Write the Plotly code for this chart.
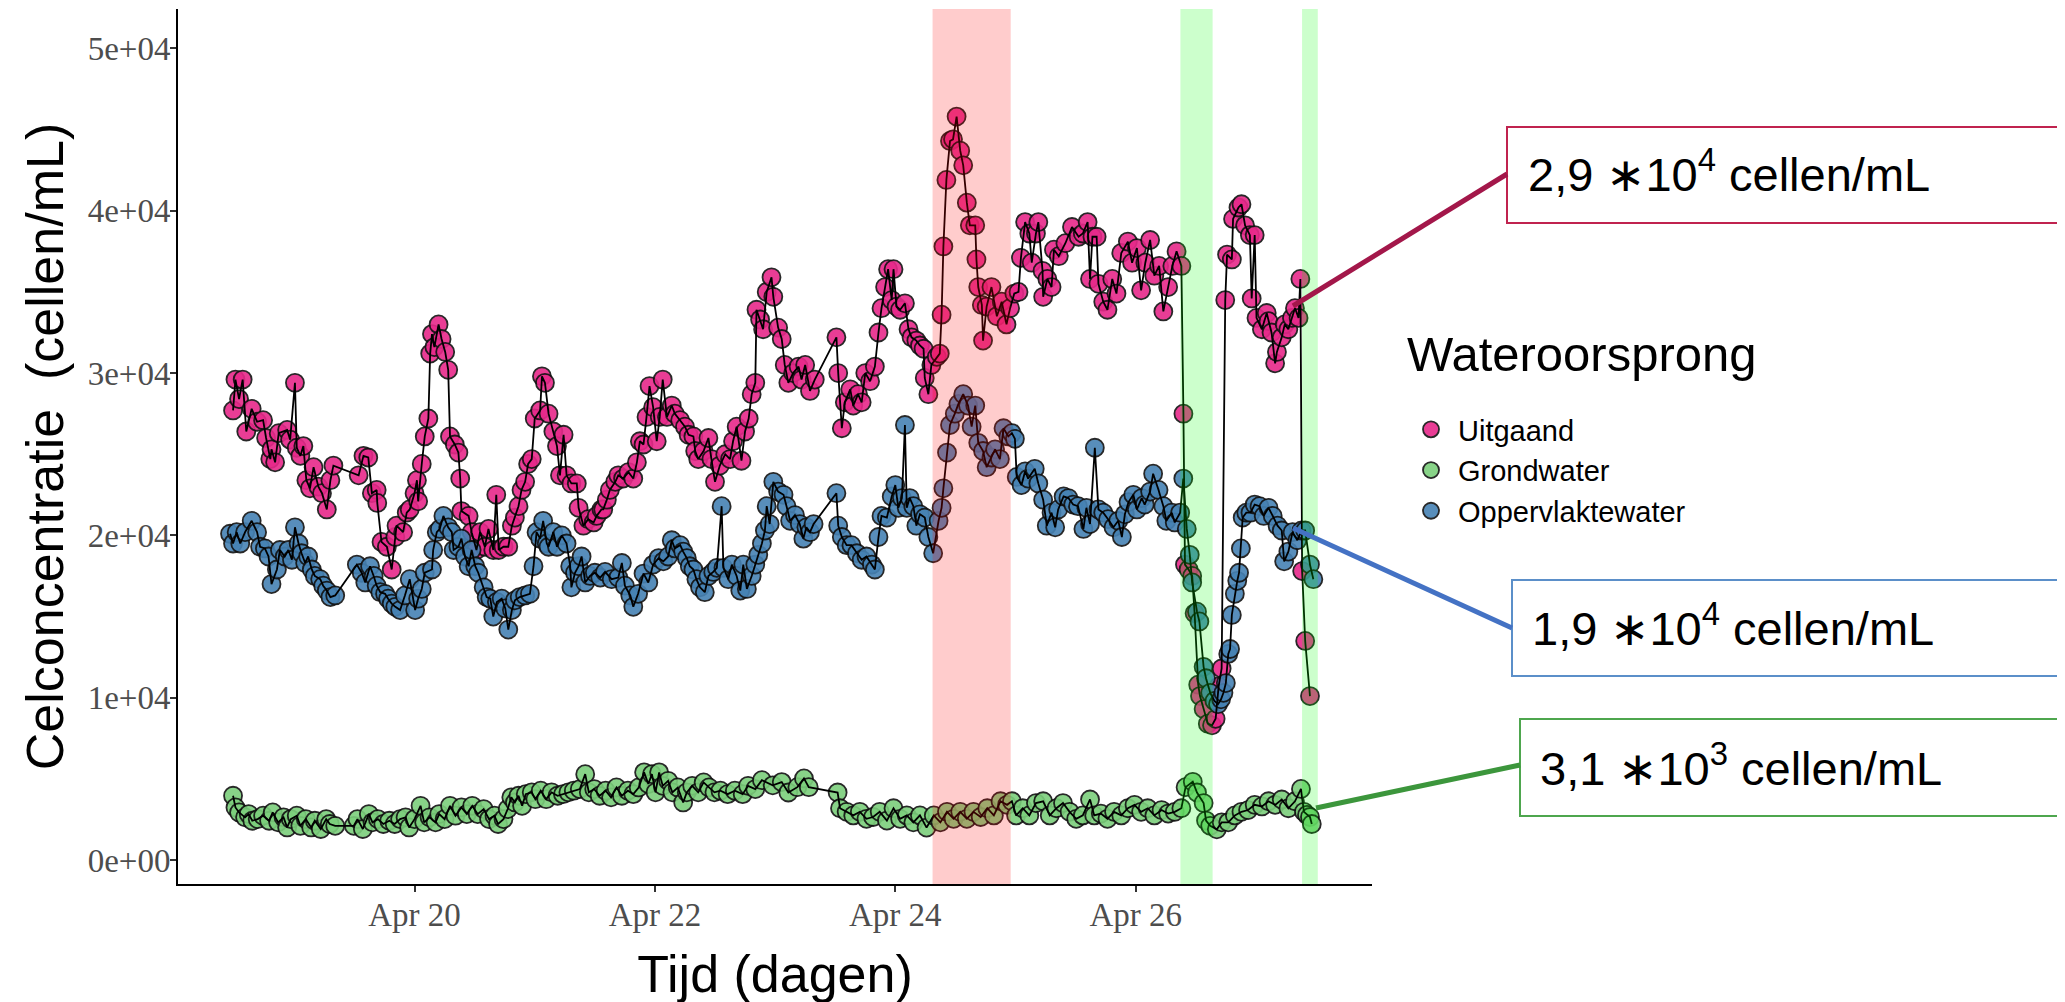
import plotly.graph_objects as go
from datetime import datetime, timedelta

# ---------------- data (day of April, fractional) ----------------
t_uitgaand = [
    18.49, 18.51, 18.54, 18.57, 18.60, 18.645, 18.69, 18.74, 18.765, 18.80, 18.81, 18.84, 18.87, 18.94, 18.965,
    19.005, 19.02, 19.05, 19.075, 19.10, 19.13, 19.16, 19.20, 19.23, 19.27, 19.30, 19.325,
    19.535, 19.575, 19.615, 19.645, 19.685, 19.69, 19.725, 19.77, 19.81, 19.84, 19.85, 19.905, 19.935, 19.96,
    20.00, 20.02, 20.03, 20.06, 20.085, 20.115, 20.13, 20.145, 20.165, 20.20, 20.225, 20.255, 20.28, 20.295,
    20.335, 20.365, 20.38, 20.39, 20.45, 20.475, 20.515, 20.545, 20.585, 20.615, 20.655, 20.68, 20.70, 20.74,
    20.78, 20.81, 20.835, 20.865, 20.89, 20.92, 20.945, 20.975, 21.00, 21.045, 21.06, 21.085, 21.115, 21.155,
    21.185, 21.21, 21.24, 21.265, 21.305, 21.35, 21.365, 21.405, 21.445, 21.49, 21.515, 21.555, 21.57, 21.60,
    21.625, 21.67, 21.695, 21.735, 21.78, 21.82, 21.85, 21.875, 21.905, 21.93, 21.955, 21.985, 22.015, 22.04,
    22.065, 22.10, 22.14, 22.165, 22.21, 22.25, 22.28, 22.32, 22.335, 22.36, 22.405, 22.445, 22.47, 22.50,
    22.54, 22.585, 22.625, 22.65, 22.68, 22.72, 22.75, 22.78, 22.805, 22.835, 22.845, 22.875, 22.90, 22.93,
    22.97, 22.985, 23.025, 23.055, 23.08, 23.11, 23.15, 23.195, 23.22, 23.25, 23.29, 23.33,
    23.51, 23.525, 23.555, 23.58, 23.625, 23.65, 23.69, 23.72, 23.75, 23.79, 23.83, 23.86, 23.885, 23.915,
    23.94, 23.97, 23.985, 24.01, 24.04, 24.08, 24.11, 24.135, 24.175, 24.205, 24.235, 24.245, 24.275, 24.30,
    24.345, 24.37, 24.385, 24.40, 24.425, 24.455, 24.48, 24.51, 24.54, 24.565, 24.595, 24.62, 24.665, 24.675,
    24.69, 24.72, 24.73, 24.76, 24.80, 24.845, 24.885, 24.925, 24.955, 24.99, 25.025, 25.045, 25.08, 25.115,
    25.135, 25.17, 25.19, 25.225, 25.23, 25.265, 25.30, 25.32, 25.36, 25.415, 25.47, 25.525, 25.56, 25.60,
    25.62, 25.64, 25.675, 25.69, 25.73, 25.765, 25.805, 25.84, 25.88, 25.935, 25.97, 26.01, 26.045, 26.08,
    26.12, 26.155, 26.195, 26.23, 26.27, 26.305, 26.34, 26.38, 26.397, 26.41, 26.44, 26.47, 26.49, 26.52,
    26.535, 26.565, 26.60, 26.635, 26.665, 26.69, 26.715, 26.745, 26.76, 26.80, 26.81, 26.855, 26.88, 26.91,
    26.95, 26.965, 26.99, 27.005, 27.05, 27.09, 27.105, 27.13, 27.16, 27.175, 27.215, 27.24, 27.27, 27.30,
    27.325, 27.355, 27.37, 27.385, 27.41, 27.45,
]
v_uitgaand_k = [
    27.7, 29.6, 28.4, 29.6, 26.4, 27.8, 27.0, 27.1, 26.0, 24.7, 25.3, 24.5, 26.3, 26.5, 25.9,
    29.4, 25.4, 24.9, 25.5, 23.4, 22.9, 24.2, 23.0, 22.6, 21.6, 23.4, 24.3,
    23.7, 24.9, 24.8, 22.6, 22.8, 22.0, 19.6, 19.3, 17.9, 19.9, 20.6, 20.2, 21.4, 21.6,
    22.6, 23.4, 22.1, 24.4, 26.1, 27.2, 31.2, 32.4, 31.6, 33.0, 32.1, 31.3, 30.2, 26.1,
    25.6, 25.1, 23.5, 21.5, 21.2, 20.2, 19.1, 20.2, 19.3, 20.4, 19.1, 22.5, 19.1, 19.3,
    19.3, 20.6, 21.1, 21.8, 22.8, 23.3, 24.4, 24.7, 27.2, 27.7, 29.8, 29.4, 27.5, 26.4,
    25.5, 23.7, 26.2, 23.7, 23.2, 23.2, 21.7, 20.6, 21.0, 20.8, 21.2, 21.6, 21.6, 22.2,
    22.8, 23.3, 23.7, 23.5, 23.9, 23.5, 24.5, 25.8, 25.6, 27.3, 29.2, 27.9, 25.8, 27.3,
    29.6, 27.3, 28.0, 27.5, 27.1, 26.7, 26.2, 26.1, 25.2, 24.7, 25.2, 26.0, 24.7, 23.3,
    24.3, 25.0, 24.7, 25.8, 26.7, 24.6, 26.4, 27.2, 28.7, 29.4, 33.9, 33.3, 32.7, 35.0,
    35.9, 34.7, 32.8, 32.1, 30.5, 29.4, 30.0, 30.4, 29.6, 30.5, 28.9, 29.6,
    32.2, 30.0, 26.6, 28.2, 29.0, 28.0, 28.7, 28.2, 30.0, 29.5, 30.4, 32.5, 34.0, 35.3,
    36.4, 34.5, 36.4, 34.1, 33.9, 34.3, 32.7, 32.2, 32.0, 31.7, 31.5, 29.7, 28.7, 30.5,
    31.0, 31.2, 33.6, 37.8, 41.9, 44.3, 44.4, 45.8, 43.7, 42.8, 40.5, 39.1, 39.1, 37.0,
    35.3, 34.2, 32.0, 34.1, 35.3, 33.5, 34.4, 33.0, 34.0, 34.9, 35.0, 37.1, 39.3, 38.6,
    36.8, 38.6, 39.3, 36.3, 34.7, 35.8, 35.3, 37.6, 37.2, 38.0, 39.0, 38.4, 38.6, 39.3,
    35.8, 38.4, 38.4, 35.5, 34.4, 33.9, 35.8, 34.9, 37.4, 38.1, 36.8, 37.7, 35.1, 36.8,
    38.2, 36.0, 36.6, 33.8, 35.3, 36.6, 37.5, 36.6, 27.5, 18.2, 17.9, 17.5, 15.2, 10.8,
    10.1, 9.3, 8.4, 8.3, 8.7, 10.7, 11.8, 34.5, 37.3, 37.0, 39.5, 40.2, 40.4, 39.1,
    38.5, 34.6, 38.5, 33.4, 32.7, 33.7, 33.2, 32.5, 30.6, 31.3, 32.2, 33.0, 32.7, 33.4,
    34.0, 33.4, 35.8, 17.8, 13.5, 10.1,
]

t_grondwater = [
    18.49, 18.51, 18.54, 18.59, 18.62, 18.65, 18.695, 18.74, 18.79, 18.82, 18.865, 18.91, 18.94, 18.97,
    19.02, 19.05, 19.095, 19.14, 19.17, 19.22, 19.265, 19.295, 19.34,
    19.495, 19.525, 19.57, 19.62, 19.65, 19.695, 19.74, 19.79, 19.835, 19.88, 19.925, 19.955,
    20.00, 20.05, 20.08, 20.125, 20.175, 20.205, 20.25, 20.295, 20.34, 20.39, 20.435, 20.48, 20.525, 20.575,
    20.62, 20.665, 20.695, 20.74, 20.775, 20.805, 20.835, 20.865, 20.895, 20.925, 20.975,
    21.005, 21.05, 21.095, 21.14, 21.19, 21.235, 21.28, 21.325, 21.375, 21.42, 21.45, 21.495, 21.54, 21.59,
    21.635, 21.68, 21.725, 21.775, 21.82, 21.865, 21.91, 21.945, 21.975,
    22.005, 22.035, 22.065, 22.11, 22.145, 22.19, 22.235, 22.265, 22.31, 22.36, 22.405, 22.45, 22.495, 22.545,
    22.605, 22.665, 22.73, 22.775, 22.835, 22.89, 22.98, 23.055, 23.11, 23.185, 23.24, 23.28,
    23.52, 23.54, 23.595, 23.65, 23.705, 23.76, 23.815, 23.87, 23.93, 23.985,
    24.04, 24.095, 24.15, 24.205, 24.26, 24.32, 24.375, 24.43, 24.485, 24.54, 24.595, 24.65, 24.71, 24.765,
    24.82, 24.875, 24.93, 24.97, 25.005, 25.06, 25.115, 25.17, 25.23, 25.285, 25.34, 25.395, 25.45, 25.505,
    25.56, 25.62, 25.655, 25.71, 25.765, 25.82, 25.88, 25.935, 25.99, 26.045, 26.10, 26.155, 26.215, 26.27,
    26.325, 26.38, 26.415, 26.475, 26.51, 26.565, 26.585, 26.62, 26.675, 26.715, 26.77, 26.825, 26.88, 26.935,
    26.99, 27.05, 27.105, 27.16, 27.215, 27.27, 27.325, 27.375, 27.40, 27.425, 27.45, 27.465,
]
v_grondwater_k = [
    3.96, 3.24, 2.93, 2.63, 2.83, 2.42, 2.52, 2.73, 2.42, 2.93, 2.32, 2.63, 2.01, 2.52,
    2.73, 2.11, 2.52, 2.01, 2.42, 1.91, 2.52, 2.22, 2.11,
    2.11, 2.52, 1.91, 2.83, 2.32, 2.52, 2.22, 2.42, 2.22, 2.52, 2.63, 2.01,
    2.52, 3.34, 2.32, 2.63, 2.32, 2.83, 2.52, 3.34, 2.73, 3.24, 2.83, 3.34, 2.83, 3.14,
    2.52, 2.73, 2.22, 2.52, 3.14, 3.86, 3.55, 3.96, 3.34, 4.06, 4.17,
    3.75, 4.27, 3.75, 4.17, 3.96, 4.06, 4.17, 4.27, 4.37, 5.29, 4.17, 4.37, 3.96, 4.27,
    3.86, 4.47, 3.96, 4.27, 4.06, 4.47, 5.40, 4.68, 5.29,
    4.17, 5.40, 4.57, 4.88, 4.17, 4.47, 3.55, 4.17, 4.57, 4.17, 4.78, 4.47, 4.17, 4.27,
    4.06, 4.27, 4.06, 4.57, 4.37, 4.92, 4.60, 4.80, 4.16, 4.49, 5.03, 4.49,
    4.16, 3.19, 2.97, 2.75, 2.97, 2.54, 2.65, 2.97, 2.43, 3.19,
    2.54, 2.75, 2.32, 2.75, 2.00, 2.75, 2.32, 2.97, 2.54, 2.97, 2.54, 2.97, 2.65, 3.19,
    2.75, 3.62, 3.40, 3.62, 2.75, 3.19, 2.75, 3.51, 3.62, 2.75, 3.19, 3.51, 2.97, 2.54,
    2.75, 3.73, 2.75, 2.86, 2.54, 2.97, 2.75, 3.19, 3.40, 2.97, 3.19, 2.75, 3.08, 2.86,
    2.97, 3.19, 4.49, 4.82, 4.16, 3.51, 2.43, 2.11, 1.89, 2.32, 2.32, 2.75, 2.97, 3.08,
    3.40, 3.30, 3.62, 3.40, 3.73, 3.19, 3.62, 4.38, 2.97, 2.78, 2.65, 2.22,
]

t_oppervlaktewater = [
    18.465, 18.49, 18.52, 18.55, 18.59, 18.645, 18.69, 18.715, 18.755, 18.785, 18.81, 18.855, 18.88, 18.92,
    18.95, 18.98, 19.005, 19.035, 19.06, 19.09, 19.115, 19.145, 19.17, 19.215, 19.24, 19.27, 19.30, 19.34,
    19.52, 19.56, 19.59, 19.63, 19.66, 19.685, 19.715, 19.755, 19.78, 19.81, 19.84, 19.88, 19.92, 19.96,
    20.005, 20.03, 20.06, 20.085, 20.145, 20.155, 20.185, 20.21, 20.24, 20.28, 20.31, 20.325, 20.365, 20.39,
    20.42, 20.45, 20.475, 20.505, 20.53, 20.575, 20.60, 20.63, 20.655, 20.685, 20.725, 20.755, 20.78, 20.81,
    20.835, 20.875, 20.92, 20.96, 20.99, 21.015, 21.045, 21.07, 21.10, 21.115, 21.155, 21.185, 21.225, 21.265,
    21.295, 21.305, 21.335, 21.365, 21.39, 21.42, 21.46, 21.50, 21.545, 21.585, 21.64, 21.695, 21.725, 21.75,
    21.795, 21.82, 21.86, 21.905, 21.945, 21.985, 22.03, 22.07, 22.11, 22.14, 22.165, 22.21, 22.235, 22.265,
    22.29, 22.32, 22.345, 22.375, 22.415, 22.445, 22.485, 22.515, 22.555, 22.57, 22.61, 22.64, 22.68, 22.71,
    22.735, 22.765, 22.805, 22.835, 22.86, 22.89, 22.915, 22.93, 22.955, 22.985, 23.025, 23.07, 23.095, 23.125,
    23.165, 23.205, 23.235, 23.26, 23.29, 23.32,
    23.51, 23.525, 23.555, 23.595, 23.635, 23.68, 23.72, 23.76, 23.805, 23.83, 23.86, 23.885, 23.93, 23.97,
    24.00, 24.025, 24.055, 24.08, 24.095, 24.12, 24.15, 24.175, 24.205, 24.245, 24.275, 24.315, 24.36, 24.385,
    24.40, 24.43, 24.455, 24.495, 24.525, 24.565, 24.605, 24.635, 24.665, 24.69, 24.73, 24.76, 24.80, 24.83,
    24.87, 24.90, 24.94, 24.97, 24.995, 25.01, 25.05, 25.08, 25.105, 25.16, 25.19, 25.23, 25.26, 25.30,
    25.33, 25.355, 25.40, 25.44, 25.48, 25.52, 25.565, 25.59, 25.62, 25.66, 25.69, 25.73, 25.77, 25.815,
    25.855, 25.885, 25.91, 25.94, 25.98, 26.01, 26.05, 26.075, 26.12, 26.145, 26.19, 26.23, 26.255, 26.30,
    26.325, 26.37, 26.396, 26.425, 26.45, 26.47, 26.51, 26.53, 26.565, 26.585, 26.62, 26.655, 26.685, 26.71,
    26.73, 26.75, 26.77, 26.785, 26.80, 26.825, 26.845, 26.86, 26.875, 26.89, 26.92, 26.955, 26.99, 27.03,
    27.065, 27.105, 27.14, 27.18, 27.215, 27.235, 27.27, 27.305, 27.345, 27.38, 27.41, 27.45, 27.478,
]
v_oppervlaktewater_k = [
    20.1, 19.5, 20.2, 19.5, 20.2, 20.9, 20.2, 19.3, 19.2, 18.7, 17.0, 17.9, 19.1, 18.7,
    19.1, 18.5, 20.5, 19.5, 18.9, 18.3, 18.7, 17.9, 17.5, 17.3, 16.9, 16.6, 16.2, 16.3,
    18.2, 17.7, 17.1, 18.1, 17.5, 16.9, 16.5, 16.4, 16.1, 15.8, 15.6, 15.4, 16.3, 17.3,
    15.4, 16.1, 16.7, 17.7, 17.9, 19.1, 20.2, 20.4, 21.2, 20.5, 20.2, 19.1, 19.3, 19.8,
    18.7, 18.1, 19.1, 18.1, 17.7, 16.8, 16.2, 16.1, 15.0, 15.9, 16.1, 15.5, 14.2, 15.4,
    16.0, 16.2, 16.3, 16.4, 18.1, 20.2, 19.8, 20.9, 19.5, 19.3, 20.2, 19.3, 20.0, 19.5,
    18.1, 16.8, 17.7, 18.1, 18.7, 17.1, 17.5, 17.7, 17.4, 17.75, 17.3, 17.4, 18.3, 16.9,
    16.3, 15.6, 16.4, 17.65, 17.1, 18.2, 18.6, 18.4, 18.7, 19.7, 19.2, 19.4, 19.0, 18.6,
    18.1, 17.9, 17.3, 16.8, 16.5, 17.5, 17.75, 18.0, 21.8, 18.0, 17.3, 18.2, 17.5, 16.6,
    18.2, 16.7, 17.5, 18.2, 18.8, 19.5, 20.3, 21.8, 20.7, 23.3, 22.7, 22.5, 21.8, 20.9,
    21.25, 20.7, 19.8, 20.5, 20.2, 20.7,
    22.6, 20.6, 19.9, 19.4, 19.4, 18.9, 18.5, 18.7, 18.2, 17.9, 19.9, 21.2, 21.1, 22.4,
    23.1, 21.7, 22.3, 26.8, 21.7, 22.3, 21.8, 20.6, 21.3, 21.1, 19.9, 18.9, 20.9, 21.7,
    22.9, 25.1, 26.8, 27.5, 28.1, 28.7, 28.0, 26.7, 28.0, 25.7, 25.2, 24.2, 24.8, 25.3,
    24.7, 26.6, 26.1, 26.3, 25.95, 23.6, 23.1, 23.95, 23.5, 24.1, 23.2, 22.2, 20.6, 21.4,
    20.5, 21.6, 22.4, 22.3, 21.9, 21.8, 20.4, 21.7, 20.7, 25.4, 21.6, 21.4, 21.0, 20.5,
    20.9, 19.9, 21.3, 22.05, 22.5, 21.6, 22.3, 21.9, 22.7, 23.8, 22.8, 21.8, 20.9, 21.4,
    20.8, 21.4, 23.5, 20.4, 18.8, 17.1, 15.3, 14.7, 11.9, 11.2, 10.3, 9.8, 9.6, 9.9,
    10.3, 10.9, 12.7, 13.0, 15.1, 16.4, 17.2, 17.7, 19.2, 21.1, 21.4, 21.4, 21.9, 21.8,
    21.2, 21.7, 21.2, 20.6, 20.3, 18.4, 19.0, 20.2, 19.7, 20.3, 20.3, 18.2, 17.3,
]

series_names = ["Uitgaand", "Grondwater", "Oppervlaktewater"]
series_colors = ["#E7298A", "#7CCF7C", "#4682B4"]

shade_red = [(24.31, 24.96)]
shade_green = [(26.372, 26.64), (27.384, 27.515)]

y_tickvals = [0, 10000, 20000, 30000, 40000, 50000]
y_ticktext = ["0e+00", "1e+04", "2e+04", "3e+04", "4e+04", "5e+04"]

labels = ["2,9 \u221710<sup>4</sup> cellen/mL",
          "1,9 \u221710<sup>4</sup> cellen/mL",
          "3,1 \u221710<sup>3</sup> cellen/mL"]

# ---------------- layout helpers ----------------
BASE = datetime(2021, 4, 1)
def to_dt(d):
    return BASE + timedelta(days=d - 1)

W, H = 2065, 1002
OFF = 8                      # page body margin of the html output
# plot area, in reference-picture pixels
PL, PR, PT, PB = 178, 1372, 9, 884
L, R, T, B = PL - OFF, PR - OFF, PT - OFF, PB - OFF
def px(Xp):
    return (Xp - OFF - L) / (R - L)
def py(Yp):
    return (B - (Yp - OFF)) / (B - T)

SANS = "Liberation Sans, Arial, sans-serif"
SERIF = "Liberation Serif, Times New Roman, serif"

fig = go.Figure()

data = [
    (t_uitgaand, v_uitgaand_k),
    (t_grondwater, v_grondwater_k),
    (t_oppervlaktewater, v_oppervlaktewater_k),
]

for (t, v), name, col in zip(data, series_names, series_colors):
    fig.add_trace(go.Scatter(
        x=[to_dt(d) for d in t], y=[k * 1000 for k in v],
        mode="markers", name=name,
        marker=dict(size=18, color=col, opacity=0.9,
                    line=dict(color="#111111", width=1.8)),
    ))
for (t, v), name in zip(data, series_names):
    fig.add_trace(go.Scatter(
        x=[to_dt(d) for d in t], y=[k * 1000 for k in v],
        mode="lines", showlegend=False, hoverinfo="skip",
        line=dict(color="black", width=1.8),
    ))

shapes = []
for a, b in shade_red:
    shapes.append(dict(type="rect", xref="x", yref="paper", x0=to_dt(a), x1=to_dt(b), y0=0, y1=1,
                       fillcolor="rgba(255,0,0,0.2)", line=dict(width=0), layer="above"))
for a, b in shade_green:
    shapes.append(dict(type="rect", xref="x", yref="paper", x0=to_dt(a), x1=to_dt(b), y0=0, y1=1,
                       fillcolor="rgba(0,255,0,0.2)", line=dict(width=0), layer="above"))

# callout boxes and connectors (reference pixels -> paper)
boxes = [
    ((1507, 127, 2061, 223), "#C0234F"),
    ((1512, 580, 2061, 676), "#5B8FC9"),
    ((1520, 719, 2061, 816), "#4EA64E"),
]
connectors = [
    ((1293, 306, 1507, 174), "#A3174A"),
    ((1293, 528, 1512, 628), "#4472C4"),
    ((1316, 808, 1520, 765), "#3C963C"),
]
for (x0, y0, x1, y1), c in boxes:
    shapes.append(dict(type="rect", xref="paper", yref="paper", x0=px(x0), x1=px(x1), y0=py(y1), y1=py(y0),
                       fillcolor="white", line=dict(color=c, width=2), layer="above"))
for (x0, y0, x1, y1), c in connectors:
    shapes.append(dict(type="line", xref="paper", yref="paper", x0=px(x0), x1=px(x1), y0=py(y0), y1=py(y1),
                       line=dict(color=c, width=5), layer="above"))

annotations = []
text_pos = [(1526, 171), (1530, 625), (1538, 765)]
for (X, Y), txt in zip(text_pos, labels):
    annotations.append(dict(xref="paper", yref="paper", x=px(X), y=py(Y), text=txt, showarrow=False,
                            xanchor="left", yanchor="middle",
                            font=dict(family=SANS, size=47, color="black")))
# legend heading
annotations.append(dict(xref="paper", yref="paper", x=px(1405), y=py(354), text="Wateroorsprong",
                        showarrow=False, xanchor="left", yanchor="middle",
                        font=dict(family=SANS, size=49, color="black")))

fig.update_layout(
    width=W, height=H,
    margin=dict(l=L, r=W - R, t=T, b=H - B, autoexpand=False),
    paper_bgcolor="white", plot_bgcolor="white",
    shapes=shapes, annotations=annotations,
    legend=dict(
        font=dict(family=SANS, size=29, color="black"),
        x=px(1404), y=py(404), xanchor="left", yanchor="top",
        bgcolor="rgba(0,0,0,0)", itemsizing="trace", itemwidth=44,
        tracegroupgap=0,
    ),
    xaxis=dict(
        type="date", range=[to_dt(18.032), to_dt(27.966)],
        tickmode="linear", tick0=to_dt(20), dtick=2 * 86400000, tickformat="%b %d",
        showgrid=False, zeroline=False, showline=True, linecolor="black", linewidth=2,
        ticks="outside", ticklen=6, tickwidth=1.5, tickcolor="#333333",
        tickfont=dict(family=SERIF, size=33, color="#4D4D4D"),
        ticklabelstandoff=-6,
        title=dict(text="Tijd (dagen)" + "\u00a0" * 5, font=dict(family=SANS, size=52, color="black"),
                   standoff=24),
        automargin=False,
    ),
    yaxis=dict(
        range=[-1477, 52430],
        tickmode="array", tickvals=y_tickvals, ticktext=y_ticktext,
        showgrid=False, zeroline=False, showline=True, linecolor="black", linewidth=2,
        ticks="outside", ticklen=6, tickwidth=1.5, tickcolor="#333333",
        tickfont=dict(family=SERIF, size=33, color="#4D4D4D"),
        ticklabelstandoff=-7,
        title=dict(text="Celconcentratie\u00a0 (cellen/mL)", font=dict(family=SANS, size=52, color="black"),
                   standoff=7),
        automargin=False,
    ),
)

fig.write_html("out.html")
